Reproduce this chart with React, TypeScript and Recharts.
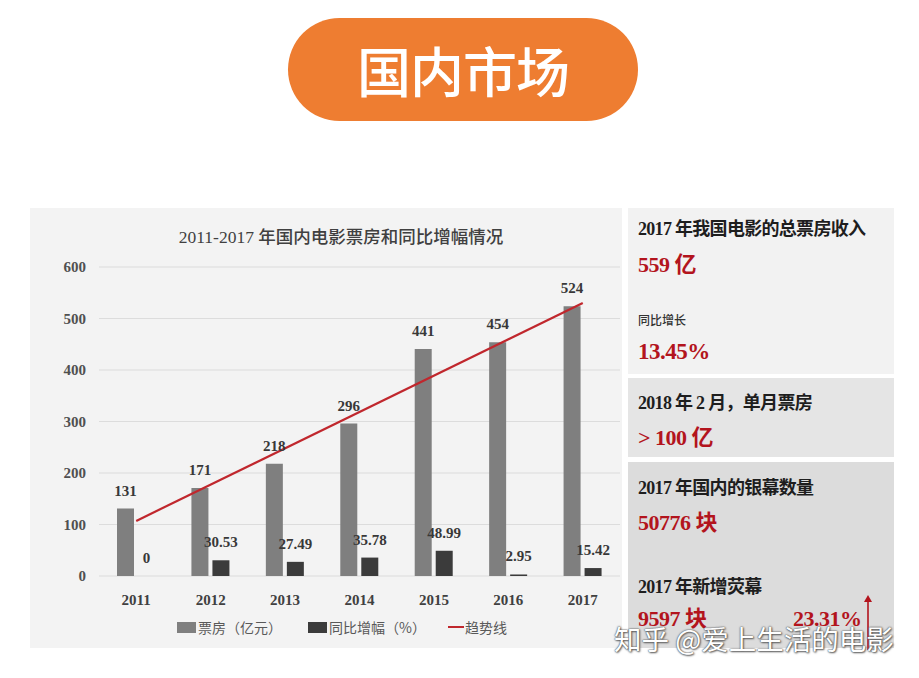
import React from "react";
import {
  ComposedChart,
  Bar,
  Line,
  XAxis,
  YAxis,
  CartesianGrid,
  LabelList,
} from "recharts";

const years = ["2011", "2012", "2013", "2014", "2015", "2016", "2017"];
const boxOffice = [131, 171, 218, 296, 441, 454, 524];
const growth = [0, 30.53, 27.49, 35.78, 48.99, 2.95, 15.42];
const trend = [107, null, null, null, null, null, 530];
const yTicks = [0, 100, 200, 300, 400, 500, 600];

const data = years.map((y, i) => ({
  year: y,
  boxOffice: boxOffice[i],
  growth: growth[i],
  trend: trend[i],
}));

const SERIF = "'Liberation Serif', 'Noto Sans CJK SC', serif";
const CJK = "'Liberation Serif', 'Noto Sans CJK SC', sans-serif";
const RED = "#B3141D";
const GRAY_BAR = "#7F7F7F";
const DARK_BAR = "#3B3B3B";
const TREND = "#C0272D";

const abs = (l: number, t: number, extra: React.CSSProperties = {}): React.CSSProperties => ({
  position: "absolute",
  left: l,
  top: t,
  ...extra,
});

function Txt({ l, t, size, color, weight, children, ls }: any) {
  return (
    <div
      style={abs(l, t, {
        fontSize: size,
        color,
        fontWeight: weight ?? 700,
        fontFamily: CJK,
        lineHeight: 1,
        whiteSpace: "nowrap",
        letterSpacing: ls ?? 0,
      })}
    >
      {children}
    </div>
  );
}

const renderTopLabel = (p: any) => {
  const { x, y, width, height, value } = p;
  if (value === undefined || value === null) return null;
  const top = Math.min(Number(y), Number(y) + Number(height));
  return (
    <text
      x={Number(x) + Number(width) / 2}
      y={top - 13}
      textAnchor="middle"
      fontSize={15}
      fill="#383838"
      fontFamily={SERIF}
      fontWeight={700}
    >
      {String(value)}
    </text>
  );
};

export default function App() {
  return (
    <div
      style={{
        position: "absolute",
        left: 0,
        top: 0,
        width: 919,
        height: 678,
        background: "#FFFFFF",
        overflow: "hidden",
      }}
    >
      {/* header pill */}
      <div
        style={abs(288, 18, {
          width: 350,
          height: 103,
          borderRadius: 52,
          background: "#EE7D31",
          display: "flex",
          alignItems: "center",
          justifyContent: "center",
          color: "#FFFFFF",
          fontSize: 54,
          fontFamily: "'Noto Sans CJK SC', sans-serif",
          fontWeight: 500,
          letterSpacing: -1,
        })}
      >
        国内市场
      </div>

      {/* chart panel */}
      <div style={abs(30, 208, { width: 592, height: 440, background: "#F3F3F3" })}>
        <div
          style={abs(0, 21, {
            width: 622,
            textAlign: "center",
            fontSize: 17.5,
            fontFamily: CJK,
            fontWeight: 500,
            color: "#404040",
            lineHeight: 1,
            whiteSpace: "nowrap",
          })}
        >
          2011-2017 年国内电影票房和同比增幅情况
        </div>
        <div style={abs(0, 0)}>
          <ComposedChart
            width={592}
            height={440}
            data={data}
            margin={{ top: 59, right: 2, left: 0, bottom: 0 }}
            barGap={4}
            barSize={17}
          >
            <CartesianGrid vertical={false} stroke="#DCDCDC" strokeWidth={1.2} />
            <XAxis
              dataKey="year"
              axisLine={false}
              tickLine={false}
              height={72}
              tickMargin={12}
              tick={{ fontSize: 15, fill: "#404040", fontFamily: SERIF, fontWeight: 700 }}
            />
            <YAxis
              domain={[0, 600]}
              ticks={yTicks}
              axisLine={false}
              tickLine={false}
              width={69}
              tickMargin={7}
              tick={{ fontSize: 15, fill: "#505050", fontFamily: SERIF, fontWeight: 700 }}
            />
            <Bar dataKey="boxOffice" fill={GRAY_BAR} isAnimationActive={false}>
              <LabelList dataKey="boxOffice" content={renderTopLabel} />
            </Bar>
            <Bar
              dataKey="growth"
              fill={DARK_BAR}
              minPointSize={0.01}
              isAnimationActive={false}
            >
              <LabelList dataKey="growth" content={renderTopLabel} />
            </Bar>
            <Line
              dataKey="trend"
              stroke={TREND}
              strokeWidth={2.2}
              dot={false}
              connectNulls
              isAnimationActive={false}
            />
          </ComposedChart>
        </div>
        {/* legend */}
        <div
          style={abs(147, 412, {
            display: "flex",
            alignItems: "center",
            fontSize: 14,
            fontFamily: "'Noto Sans CJK SC', sans-serif",
            color: "#595959",
            lineHeight: 1,
            whiteSpace: "nowrap",
          })}
        >
          <span style={{ width: 19, height: 11, background: GRAY_BAR, display: "inline-block", marginRight: 2 }} />
          <span>票房（亿元）</span>
          <span style={{ width: 19, height: 11, background: DARK_BAR, display: "inline-block", marginLeft: 26, marginRight: 2 }} />
          <span>同比增幅（%）</span>
          <span style={{ width: 16, height: 2.5, background: TREND, display: "inline-block", marginLeft: 22, marginRight: 1 }} />
          <span>趋势线</span>
        </div>
      </div>

      {/* right panels */}
      <div style={abs(628, 208, { width: 266, height: 166, background: "#F2F2F2" })} />
      <div style={abs(628, 378, { width: 266, height: 79, background: "#E5E5E5" })} />
      <div style={abs(628, 462, { width: 266, height: 186, background: "#DCDCDC" })} />

      <Txt l={638} t={220} size={18} color="#1E1E1E" ls={-0.7}>2017 年我国电影的总票房收入</Txt>
      <Txt l={638} t={254} size={22} color={RED} ls={-0.5}>559 亿</Txt>
      <Txt l={638} t={315} size={12} color="#333333" weight={500}>同比增长</Txt>
      <Txt l={638} t={340} size={23} color={RED} ls={-0.5}>13.45%</Txt>

      <Txt l={638} t={394} size={18} color="#1E1E1E" ls={-0.7}>2018 年 2 月，单月票房</Txt>
      <Txt l={638} t={427} size={22} color={RED} ls={-0.5}>&gt; 100 亿</Txt>

      <Txt l={638} t={479} size={18} color="#1E1E1E" ls={-0.7}>2017 年国内的银幕数量</Txt>
      <Txt l={638} t={512} size={22} color={RED} ls={-0.5}>50776 块</Txt>
      <Txt l={638} t={578} size={18} color="#1E1E1E" ls={-0.7}>2017 年新增荧幕</Txt>
      <Txt l={638} t={608} size={22} color={RED} ls={-0.5}>9597 块</Txt>
      <Txt l={793} t={608} size={22} color={RED} ls={-0.5}>23.31%</Txt>

      {/* arrow */}
      <svg style={abs(860, 592)} width={16} height={60}>
        <line x1={8} y1={8} x2={8} y2={58} stroke={RED} strokeWidth={1.6} />
        <path d="M4,10 L8,3 L12,10 Z" fill={RED} />
      </svg>

      {/* watermark */}
      <div
        style={abs(614, 625, {
          fontSize: 27.5,
          fontFamily: "'Noto Sans CJK SC', sans-serif",
          color: "#FFFFFF",
          whiteSpace: "nowrap",
          lineHeight: 1,
          textShadow: "0 0 2px #555, 0 0 1px #555, 1px 1px 2px #666",
        })}
      >
        知乎 @爱上生活的电影
      </div>
    </div>
  );
}
